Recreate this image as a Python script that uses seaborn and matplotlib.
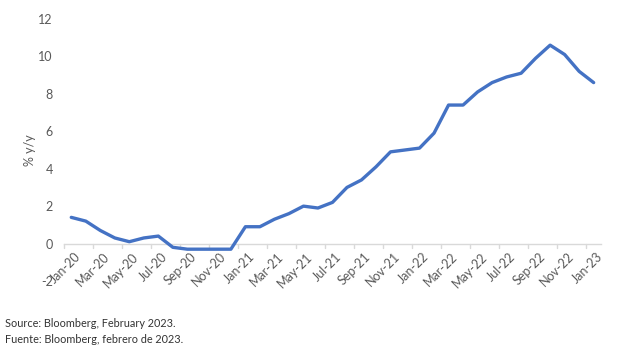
import matplotlib
matplotlib.use("Agg")
import matplotlib.pyplot as plt
import matplotlib.transforms as mtransforms
import seaborn as sns
import pandas as pd
import numpy as np

months = ["Jan-20","Feb-20","Mar-20","Apr-20","May-20","Jun-20","Jul-20","Aug-20","Sep-20","Oct-20","Nov-20","Dec-20",
          "Jan-21","Feb-21","Mar-21","Apr-21","May-21","Jun-21","Jul-21","Aug-21","Sep-21","Oct-21","Nov-21","Dec-21",
          "Jan-22","Feb-22","Mar-22","Apr-22","May-22","Jun-22","Jul-22","Aug-22","Sep-22","Oct-22","Nov-22","Dec-22",
          "Jan-23"]
inflation = [1.4, 1.2, 0.7, 0.3, 0.1, 0.3, 0.4, -0.2, -0.3, -0.3, -0.3, -0.3,
             0.9, 0.9, 1.3, 1.6, 2.0, 1.9, 2.2, 3.0, 3.4, 4.1, 4.9, 5.0,
             5.1, 5.9, 7.4, 7.4, 8.1, 8.6, 8.9, 9.1, 9.9, 10.6, 10.1, 9.2,
             8.6]
y_ticks = [-2, 0, 2, 4, 6, 8, 10, 12]
y_label = "% y/y"
notes = ["Source: Bloomberg, February 2023.", "Fuente: Bloomberg, febrero de 2023."]

sns.set_theme(style="white")
plt.rcParams['font.family'] = ['Lato', 'DejaVu Sans']

df = pd.DataFrame({"idx": np.arange(len(months)), "month": months, "value": inflation})

fig = plt.figure(figsize=(6.24, 3.51), dpi=100)
ax = fig.add_axes([0.1026, 0.1994, 0.8604, 0.7466])
sns.lineplot(data=df, x="idx", y="value", ax=ax, color="#4472C4", linewidth=2.4, zorder=3)

ax.set_xlim(-0.5, len(months) - 0.5)
ax.set_ylim(-2, 12)
ax.set_yticks(y_ticks)
ax.set_yticklabels([str(t) for t in y_ticks], color="#595959", fontsize=9)
ax.tick_params(axis="y", length=0, pad=8)

for s in ["top", "right", "left"]:
    ax.spines[s].set_visible(False)
# category axis crosses at zero
ax.spines["bottom"].set_position(("data", 0))
ax.spines["bottom"].set_color("#D9D9D9")
ax.spines["bottom"].set_linewidth(1)
ax.spines["bottom"].set_zorder(1)

label_idx = list(range(0, len(months), 2))
ax.set_xticks(label_idx)
ax.set_xticklabels([months[i] for i in label_idx], rotation=45, ha="right",
                   rotation_mode="anchor", color="#595959", fontsize=9)
ax.tick_params(axis="x", length=0, pad=0)
offset = mtransforms.ScaledTranslation(0.03, -0.07, fig.dpi_scale_trans)
for lab in ax.get_xticklabels():
    lab.set_transform(lab.get_transform() + offset)
# tick marks on the zero line at category boundaries
for b in np.arange(-0.5, len(months), 2):
    ax.plot([b, b], [0, -0.22], color="#D9D9D9", linewidth=1, zorder=1, clip_on=False)

ax.set_xlabel("")
ax.set_ylabel(y_label, color="#595959", fontsize=9, labelpad=2)

fig.text(0.008, 0.068, notes[0], fontsize=7.8, color="#333333")
fig.text(0.008, 0.023, notes[1], fontsize=7.8, color="#333333")

fig.savefig("out.png", dpi=100, facecolor="white")
